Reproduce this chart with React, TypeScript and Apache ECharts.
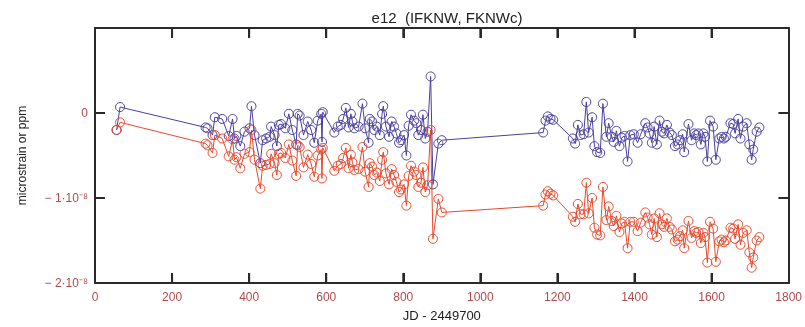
import React, { useEffect, useRef } from "react";
import * as echarts from "echarts";

// JD - 2449700 (days)
const jd = [
  56, 65, 287, 292, 305, 311, 330, 347, 357, 362, 367, 377, 388, 401, 406, 414, 429, 435, 444, 453,
  457, 466, 472, 477, 483, 494, 503, 512, 522, 526, 531, 541, 552, 561, 569, 578, 587, 589, 591, 621,
  630, 638, 644, 651, 658, 664, 668, 673, 684, 694, 701, 710, 713, 719, 725, 731, 739, 745, 748, 755,
  763, 770, 776, 782, 789, 794, 802, 808, 814, 820, 828, 834, 839, 846, 851, 857, 863, 871, 877, 891,
  900, 1163, 1169, 1175, 1182, 1189, 1240, 1246, 1253, 1260, 1268, 1275, 1281, 1290, 1296, 1303, 1311, 1318, 1327, 1333,
  1341, 1346, 1353, 1361, 1367, 1374, 1382, 1389, 1398, 1408, 1416, 1428, 1434, 1439, 1445, 1451, 1458, 1465, 1471, 1477,
  1484, 1491, 1497, 1505, 1512, 1518, 1525, 1529, 1540, 1548, 1555, 1560, 1566, 1572, 1579, 1583, 1589, 1596, 1604, 1611,
  1620, 1626, 1632, 1637, 1649, 1656, 1661, 1669, 1675, 1682, 1691, 1698, 1704, 1708, 1717, 1724,
];

// IFKNW (blue), in units of 1e-8
const ifknw = [
  -0.20, 0.07, -0.17, -0.18, -0.26, -0.05, -0.07, -0.27, -0.07, -0.30, -0.27, -0.39, -0.22, -0.18, 0.08, -0.26, -0.59, -0.32, -0.30, -0.28,
  -0.16, -0.26, -0.39, -0.14, -0.13, -0.18, -0.01, -0.20, -0.37, -0.01, -0.03, -0.26, -0.10, -0.20, -0.35, -0.09, -0.01, -0.34, 0.01, -0.23,
  -0.16, -0.14, -0.07, 0.06, -0.17, -0.01, -0.10, -0.18, -0.16, 0.11, -0.18, -0.35, -0.07, -0.10, -0.20, -0.16, -0.26, -0.01, 0.08, -0.16,
  -0.28, -0.10, -0.16, -0.24, -0.35, -0.32, -0.26, -0.50, -0.15, -0.02, -0.09, -0.12, -0.26, -0.20, -0.02, -0.30, -0.22, 0.43, -0.84, -0.36,
  -0.32, -0.23, -0.09, -0.04, -0.07, -0.08, -0.30, -0.36, -0.14, -0.26, -0.25, 0.13, -0.23, -0.05, -0.39, -0.46, -0.47, 0.11, -0.28, -0.12,
  -0.28, -0.34, -0.21, -0.39, -0.29, -0.27, -0.57, -0.26, -0.25, -0.35, -0.25, -0.12, -0.17, -0.24, -0.35, -0.16, -0.37, -0.09, -0.22, -0.24,
  -0.14, -0.23, -0.26, -0.39, -0.37, -0.32, -0.25, -0.46, -0.13, -0.32, -0.24, -0.26, -0.24, -0.37, -0.24, -0.28, -0.57, -0.09, -0.16, -0.55,
  -0.30, -0.28, -0.30, -0.28, -0.12, -0.13, -0.24, -0.07, -0.30, -0.16, -0.12, -0.37, -0.55, -0.43, -0.22, -0.17,
];

// FKNWc (red), in units of 1e-8
const fknwc = [
  -0.20, -0.11, -0.36, -0.38, -0.47, -0.26, -0.30, -0.51, -0.31, -0.55, -0.52, -0.65, -0.48, -0.46, -0.20, -0.55, -0.89, -0.62, -0.61, -0.60,
  -0.48, -0.59, -0.73, -0.48, -0.47, -0.53, -0.37, -0.56, -0.74, -0.38, -0.40, -0.64, -0.49, -0.60, -0.75, -0.50, -0.43, -0.77, -0.41, -0.68,
  -0.62, -0.60, -0.53, -0.41, -0.65, -0.49, -0.58, -0.67, -0.66, -0.40, -0.69, -0.87, -0.59, -0.63, -0.73, -0.70, -0.80, -0.55, -0.46, -0.71,
  -0.84, -0.66, -0.73, -0.81, -0.93, -0.90, -0.84, -1.09, -0.74, -0.62, -0.69, -0.73, -0.87, -0.82, -0.64, -0.93, -0.85, -0.20, -1.48, -1.01,
  -1.17, -1.09, -0.96, -0.92, -0.95, -0.97, -1.22, -1.28, -1.07, -1.19, -1.19, -0.82, -1.18, -1.00, -1.35, -1.43, -1.44, -0.87, -1.26, -1.10,
  -1.27, -1.33, -1.21, -1.40, -1.30, -1.28, -1.59, -1.28, -1.28, -1.39, -1.29, -1.17, -1.23, -1.31, -1.43, -1.24, -1.46, -1.18, -1.31, -1.34,
  -1.24, -1.34, -1.37, -1.51, -1.49, -1.45, -1.38, -1.59, -1.27, -1.47, -1.39, -1.41, -1.40, -1.53, -1.41, -1.46, -1.76, -1.28, -1.36, -1.75,
  -1.51, -1.49, -1.52, -1.50, -1.35, -1.36, -1.48, -1.31, -1.55, -1.41, -1.38, -1.64, -1.82, -1.70, -1.50, -1.46,
];

// y tick labels (values in units of 1e-8)
const yTickLabels: Record<string, string> = {
  "0": "0",
  "-1": "− 1·10⁻⁸",
  "-2": "− 2·10⁻⁸",
  "1": "",
};

// tick positions
const xTicks = [200, 400, 600, 800, 1000, 1200, 1400, 1600];
const yTicks = [-1, 0];

const FONT = "'Liberation Sans', Arial, sans-serif";
const BLUE = "#4b3f9c";
const RED = "#e8482c";
const LABEL = "#b04a4a";
const AXIS = "#2a2a2a";
const TICK_LEN = 10;

const tickSeries = (name: string, data: number[][], side: string) => ({
  name,
  type: "custom",
  silent: true,
  z: 10,
  data,
  renderItem: (p: any, api: any) => {
    const c = api.coord([api.value(0), api.value(1)]);
    let shape;
    if (side === "bottom") shape = { x: c[0] - 1, y: c[1] - TICK_LEN, width: 2, height: TICK_LEN };
    else if (side === "top") shape = { x: c[0] - 1, y: c[1], width: 2, height: TICK_LEN };
    else if (side === "left") shape = { x: c[0], y: c[1] - 1, width: TICK_LEN, height: 2 };
    else shape = { x: c[0] - TICK_LEN, y: c[1] - 1, width: TICK_LEN, height: 2 };
    return { type: "rect", shape, style: { fill: AXIS } };
  },
});

export default function App() {
  const ref = useRef<HTMLDivElement>(null);

  useEffect(() => {
    document.body.style.margin = "0";
    if (!ref.current) return;
    const chart = echarts.init(ref.current, null, { renderer: "svg" });

    const axisLine = () => ({ show: true, onZero: false, lineStyle: { color: AXIS, width: 2 } });
    const axisTick = () => ({ show: true, inside: true, length: TICK_LEN, lineStyle: { color: AXIS, width: 2 } });

    chart.setOption({
      animation: false,
      title: {
        text: "e12  (IFKNW, FKNWc)",
        left: 442,
        top: 5,
        textAlign: "center",
        textStyle: { fontFamily: FONT, fontSize: 15, fontWeight: "normal", color: "#222" },
      },
      grid: { left: 95, right: 14, top: 28, bottom: 39 },
      xAxis: [
        {
          type: "value",
          position: "bottom",
          min: 0,
          max: 1800,
          interval: 200,
          name: "JD - 2449700",
          nameLocation: "middle",
          nameGap: 26,
          nameTextStyle: { fontFamily: FONT, fontSize: 13, color: "#222" },
          axisLabel: { color: LABEL, fontSize: 12, fontFamily: FONT, margin: 8, formatter: (v: number) => String(v) },
          axisLine: axisLine(),
          axisTick: axisTick(),
          splitLine: { show: false },
        },
        {
          type: "value",
          position: "top",
          min: 0,
          max: 1800,
          interval: 200,
          axisLabel: { show: false },
          axisLine: axisLine(),
          axisTick: axisTick(),
          splitLine: { show: false },
        },
      ],
      yAxis: [
        {
          type: "value",
          position: "left",
          min: -2,
          max: 1,
          interval: 1,
          name: "microstrain or ppm",
          nameLocation: "middle",
          nameGap: 67,
          nameTextStyle: { fontFamily: FONT, fontSize: 12, color: "#222" },
          axisLabel: {
            color: LABEL,
            fontSize: 12,
            fontFamily: FONT,
            margin: 7,
            formatter: (v: number) => yTickLabels[String(v)] ?? String(v),
          },
          axisLine: axisLine(),
          axisTick: axisTick(),
          splitLine: { show: false },
        },
        {
          type: "value",
          position: "right",
          min: -2,
          max: 1,
          interval: 1,
          axisLabel: { show: false },
          axisLine: axisLine(),
          axisTick: axisTick(),
          splitLine: { show: false },
        },
      ],
      series: [
        tickSeries("tb", xTicks.map((v) => [v, -2]), "bottom"),
        tickSeries("tt", xTicks.map((v) => [v, 1]), "top"),
        tickSeries("tl", yTicks.map((v) => [0, v]), "left"),
        tickSeries("tr", yTicks.map((v) => [1800, v]), "right"),
        {
          name: "IFKNW",
          type: "line",
          data: jd.map((x, i) => [x, ifknw[i]]),
          symbol: "circle",
          symbolSize: 9,
          showAllSymbol: true,
          color: BLUE,
          lineStyle: { color: BLUE, width: 1 },
          itemStyle: { color: "none", borderColor: BLUE, borderWidth: 1 },
        },
        {
          name: "FKNWc",
          type: "line",
          data: jd.map((x, i) => [x, fknwc[i]]),
          symbol: "circle",
          symbolSize: 9,
          showAllSymbol: true,
          color: RED,
          lineStyle: { color: RED, width: 1 },
          itemStyle: { color: "none", borderColor: RED, borderWidth: 1 },
        },
      ],
    });

    return () => chart.dispose();
  }, []);

  return <div ref={ref} style={{ position: "fixed", left: 0, top: 0, width: 805, height: 327 }} />;
}
